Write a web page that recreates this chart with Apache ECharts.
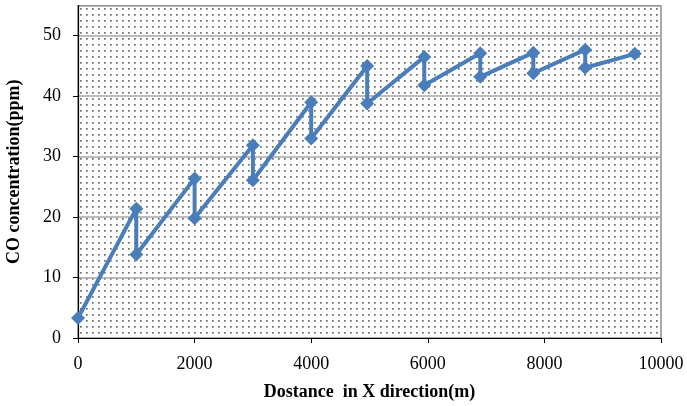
<!DOCTYPE html>
<html>
<head>
<meta charset="utf-8">
<script src="https://cdn.jsdelivr.net/npm/echarts@6/dist/echarts.min.js"></script>
<style>
html,body{margin:0;padding:0;background:#fff;}
#chart{width:687px;height:406px;}
</style>
</head>
<body>
<div id="chart"></div>
<script>
const distances = [0, 1000, 1000, 2000, 2000, 3000, 3000, 4000, 4000, 4960, 4960, 5940, 5940, 6900, 6900, 7810, 7810, 8700, 8700, 9550];
const coValues = [3.3, 21.4, 13.8, 26.4, 19.8, 31.9, 26.1, 39.0, 33.0, 45.0, 38.8, 46.5, 41.8, 47.1, 43.2, 47.2, 43.8, 47.7, 44.7, 47.0];
const xTitle = 'Dostance  in X direction(m)';
const yTitle = 'CO concentration(ppm)';

const points = distances.map((d, i) => [d, coValues[i]]);

// dotted fill pattern for the plot area
const tile = document.createElement('canvas');
tile.width = 6; tile.height = 6;
const tctx = tile.getContext('2d');
tctx.fillStyle = '#ffffff';
tctx.fillRect(0, 0, 6, 6);
tctx.fillStyle = 'rgba(70,70,70,0.8)';
tctx.fillRect(2, 2, 1.7, 1.7);

const font = '"Liberation Serif", "Times New Roman", serif';
const chart = echarts.init(document.getElementById('chart'), null, {renderer: 'canvas'});
chart.setOption({
  animation: false,
  grid: {
    left: 78, right: 26, top: 5.5, bottom: 68,
    containLabel: false,
    outerBoundsMode: 'none',
    show: true,
    backgroundColor: {image: tile, repeat: 'repeat'},
    borderColor: '#555', borderWidth: 1
  },
  xAxis: {
    type: 'value', min: 0, max: 10000, interval: 2000,
    name: xTitle, nameLocation: 'middle', nameGap: 45,
    nameTextStyle: {fontFamily: font, fontSize: 18, fontWeight: 'bold', color: '#000'},
    axisLine: {show: true, onZero: false, lineStyle: {color: '#000', width: 1.2}},
    axisTick: {show: true, inside: false, length: 5, lineStyle: {color: '#000'}},
    axisLabel: {fontFamily: font, fontSize: 18, color: '#000', margin: 17, formatter: v => String(v)},
    splitLine: {show: false}
  },
  yAxis: {
    type: 'value', min: 0, max: 55, interval: 10,
    name: yTitle, nameLocation: 'middle', nameGap: 55, nameRotate: 90,
    nameTextStyle: {fontFamily: font, fontSize: 18, fontWeight: 'bold', color: '#000'},
    axisLine: {show: true, lineStyle: {color: '#000', width: 1.2}},
    axisTick: {show: true, inside: false, length: 5, lineStyle: {color: '#000'}},
    axisLabel: {fontFamily: font, fontSize: 18, color: '#000', margin: 17, showMaxLabel: false},
    splitLine: {show: true, lineStyle: {color: '#a6a6a6', width: 1.6}}
  },
  series: [{
    type: 'line',
    data: points,
    symbol: 'diamond',
    symbolSize: 14,
    lineStyle: {color: '#4a7ebb', width: 4},
    itemStyle: {color: '#4a7ebb'}
  }]
});
</script>
</body>
</html>
